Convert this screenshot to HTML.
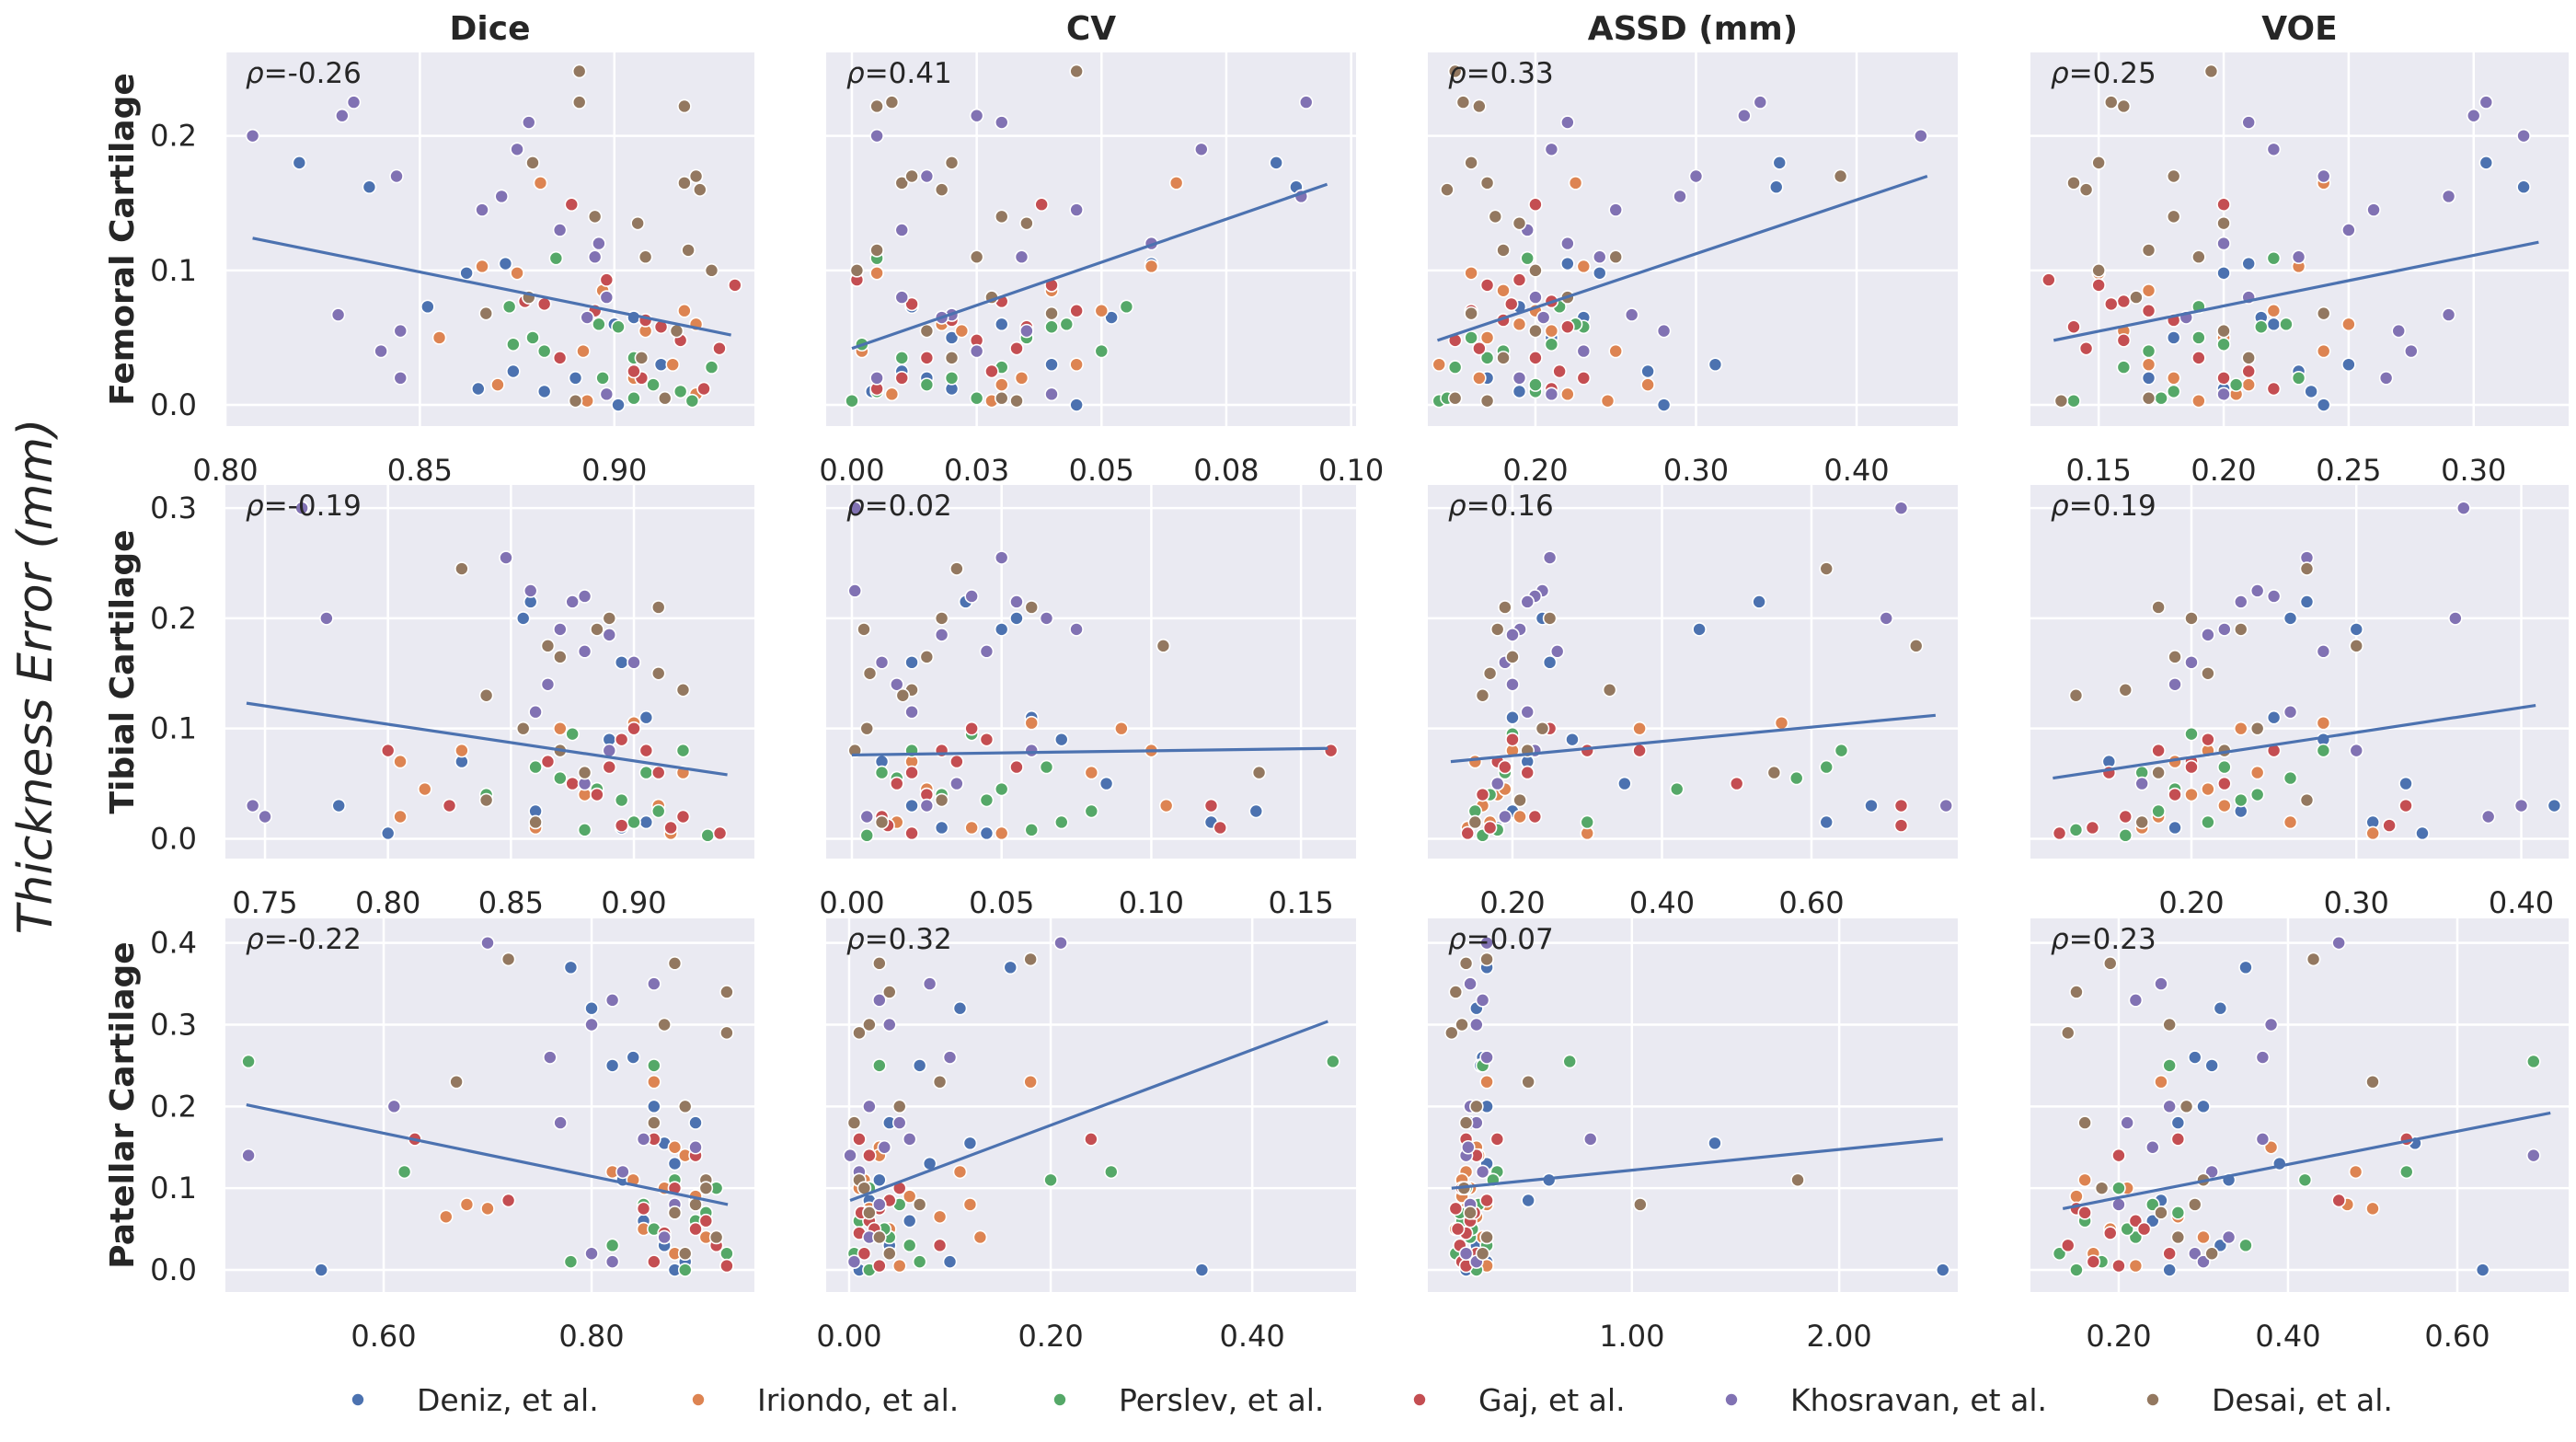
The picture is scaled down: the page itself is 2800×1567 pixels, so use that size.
<!DOCTYPE html>
<html><head><meta charset="utf-8"><style>
html,body{margin:0;padding:0;background:#fff}
svg{display:block}
text{font-family:"DejaVu Sans","Liberation Sans",sans-serif}
</style></head><body>
<svg id="fig" width="2800" height="1567" viewBox="0 0 2800 1567" xmlns="http://www.w3.org/2000/svg"></svg>
<script>
// ---------- chart data ----------
const seriesNames = ["Deniz, et al.","Iriondo, et al.","Perslev, et al.","Gaj, et al.","Khosravan, et al.","Desai, et al."];
const seriesColors = ["#4c72b0","#dd8452","#55a868","#c44e52","#8172b3","#937860"];
const colTitles = ["Dice","CV","ASSD (mm)","VOE"];
const rowTitles = ["Femoral Cartilage","Tibial Cartilage","Patellar Cartilage"];
const rhoLabels = [["-0.26","0.41","0.33","0.25"],["-0.19","0.02","0.16","0.19"],["-0.22","0.32","0.07","0.23"]];
const yTickValues = [[0,0.1,0.2],[0,0.1,0.2,0.3],[0,0.1,0.2,0.3,0.4]];
const yTickLabels = [["0.0","0.1","0.2"],["0.0","0.1","0.2","0.3"],["0.0","0.1","0.2","0.3","0.4"]];
const xTickValues = [
 [[0.80,0.85,0.90],[0,0.025,0.05,0.075,0.1],[0.2,0.3,0.4],[0.15,0.2,0.25,0.3]],
 [[0.75,0.80,0.85,0.90],[0,0.05,0.1,0.15],[0.2,0.4,0.6],[0.2,0.3,0.4]],
 [[0.6,0.8],[0,0.2,0.4],[1,2],[0.2,0.4,0.6]]];
const xTickLabels = [
 [["0.80","0.85","0.90"],["0.00","0.03","0.05","0.08","0.10"],["0.20","0.30","0.40"],["0.15","0.20","0.25","0.30"]],
 [["0.75","0.80","0.85","0.90"],["0.00","0.05","0.10","0.15"],["0.20","0.40","0.60"],["0.20","0.30","0.40"]],
 [["0.60","0.80"],["0.00","0.20","0.40"],["1.00","2.00"],["0.20","0.40","0.60"]]];
// trend line endpoints [x0,y0,x1,y1] per panel
const trendLines = [
 [[0.807,0.124,0.93,0.052],[0.0,0.042,0.0952,0.164],[0.139,0.048,0.444,0.170],[0.132,0.048,0.326,0.121]],
 [[0.7425,0.123,0.938,0.058],[0.0,0.076,0.159,0.082],[0.1175,0.070,0.766,0.112],[0.116,0.055,0.4087,0.121]],
 [[0.468,0.202,0.931,0.080],[0.001,0.085,0.475,0.304],[0.13,0.100,2.50,0.160],[0.134,0.075,0.71,0.192]]];

// per row: for each series -> y values, and x values for Dice, CV, ASSD, VOE
const femoralY = [
 [0.18,0.162,0.105,0.098,0.073,0.06,0.05,0.025,0.012,0.0,0.03,0.065,0.02,0.01],
 [0.165,0.103,0.098,0.085,0.07,0.05,0.04,0.03,0.015,0.003,0.06,0.055,0.02,0.008],
 [0.109,0.073,0.058,0.045,0.04,0.035,0.028,0.02,0.01,0.003,0.06,0.05,0.015,0.005],
 [0.149,0.093,0.089,0.077,0.07,0.063,0.058,0.048,0.035,0.02,0.012,0.075,0.042,0.025],
 [0.225,0.215,0.2,0.21,0.19,0.17,0.155,0.145,0.12,0.08,0.067,0.055,0.04,0.02,0.008,0.11,0.13,0.065],
 [0.248,0.225,0.222,0.18,0.165,0.16,0.14,0.135,0.115,0.11,0.1,0.068,0.055,0.035,0.005,0.17,0.08,0.003]];
const femoralDice = [
 [0.819,0.837,0.872,0.862,0.852,0.900,0.879,0.874,0.865,0.901,0.912,0.905,0.89,0.882],
 [0.881,0.866,0.875,0.897,0.918,0.855,0.892,0.915,0.87,0.893,0.921,0.908,0.905,0.921],
 [0.885,0.873,0.901,0.874,0.882,0.905,0.925,0.897,0.917,0.92,0.896,0.879,0.91,0.905],
 [0.889,0.898,0.931,0.877,0.895,0.908,0.912,0.917,0.886,0.907,0.923,0.882,0.927,0.905],
 [0.833,0.83,0.807,0.878,0.875,0.844,0.871,0.866,0.896,0.898,0.829,0.845,0.84,0.845,0.898,0.895,0.886,0.893],
 [0.891,0.891,0.918,0.879,0.918,0.922,0.895,0.906,0.919,0.908,0.925,0.867,0.916,0.907,0.913,0.921,0.878,0.89]];
const femoralCV = [
 [0.085,0.089,0.06,0.005,0.012,0.03,0.02,0.01,0.02,0.045,0.04,0.052,0.015,0.004],
 [0.065,0.06,0.005,0.04,0.05,0.035,0.002,0.045,0.03,0.028,0.018,0.022,0.034,0.008],
 [0.005,0.055,0.04,0.002,0.05,0.01,0.03,0.02,0.005,0.0,0.043,0.035,0.015,0.025],
 [0.038,0.001,0.04,0.03,0.045,0.02,0.035,0.025,0.015,0.01,0.005,0.012,0.033,0.028],
 [0.091,0.025,0.005,0.03,0.07,0.015,0.09,0.045,0.06,0.01,0.02,0.035,0.025,0.005,0.04,0.034,0.01,0.018],
 [0.045,0.008,0.005,0.02,0.01,0.018,0.03,0.035,0.005,0.025,0.001,0.04,0.015,0.02,0.03,0.012,0.028,0.033]];
const femoralASSD = [
 [0.352,0.35,0.22,0.24,0.19,0.225,0.21,0.27,0.2,0.28,0.312,0.23,0.17,0.19],
 [0.225,0.23,0.16,0.18,0.2,0.17,0.25,0.14,0.27,0.245,0.19,0.21,0.165,0.22],
 [0.195,0.215,0.23,0.21,0.18,0.17,0.15,0.19,0.2,0.14,0.225,0.16,0.2,0.145],
 [0.2,0.19,0.17,0.21,0.16,0.18,0.22,0.15,0.2,0.23,0.21,0.185,0.165,0.215],
 [0.34,0.33,0.44,0.22,0.21,0.3,0.29,0.25,0.22,0.2,0.26,0.28,0.23,0.19,0.21,0.24,0.195,0.205],
 [0.15,0.155,0.165,0.16,0.17,0.145,0.175,0.19,0.18,0.25,0.2,0.16,0.2,0.18,0.15,0.39,0.22,0.17]];
const femoralVOE = [
 [0.305,0.32,0.21,0.2,0.19,0.22,0.18,0.23,0.2,0.24,0.25,0.215,0.17,0.235],
 [0.24,0.23,0.15,0.17,0.22,0.2,0.24,0.17,0.21,0.19,0.25,0.16,0.18,0.205],
 [0.22,0.19,0.215,0.2,0.17,0.21,0.16,0.23,0.18,0.14,0.225,0.19,0.205,0.175],
 [0.2,0.13,0.15,0.16,0.17,0.18,0.14,0.16,0.19,0.2,0.22,0.155,0.145,0.21],
 [0.305,0.3,0.32,0.21,0.22,0.24,0.29,0.26,0.2,0.21,0.29,0.27,0.275,0.265,0.2,0.23,0.25,0.185],
 [0.195,0.155,0.16,0.15,0.14,0.145,0.18,0.2,0.17,0.19,0.15,0.24,0.2,0.21,0.17,0.18,0.165,0.135]];

const tibialY = [
 [0.215,0.2,0.19,0.16,0.11,0.09,0.07,0.05,0.03,0.015,0.005,0.025,0.01],
 [0.105,0.1,0.08,0.07,0.06,0.04,0.03,0.02,0.01,0.005,0.045,0.015],
 [0.095,0.08,0.065,0.06,0.045,0.04,0.025,0.015,0.008,0.003,0.055,0.035],
 [0.1,0.09,0.08,0.07,0.06,0.05,0.04,0.03,0.02,0.01,0.005,0.08,0.065,0.012],
 [0.3,0.255,0.225,0.22,0.215,0.2,0.19,0.185,0.17,0.16,0.14,0.115,0.08,0.05,0.03,0.02],
 [0.245,0.21,0.2,0.19,0.175,0.165,0.15,0.135,0.13,0.1,0.08,0.06,0.035,0.015]];
const tibialDice = [
 [0.858,0.855,0.87,0.895,0.905,0.89,0.83,0.88,0.78,0.905,0.8,0.86,0.895],
 [0.9,0.87,0.83,0.805,0.92,0.88,0.91,0.805,0.86,0.915,0.815,0.9],
 [0.875,0.92,0.86,0.905,0.885,0.84,0.91,0.9,0.88,0.93,0.87,0.895],
 [0.9,0.895,0.8,0.865,0.91,0.875,0.885,0.825,0.92,0.915,0.935,0.905,0.89,0.895],
 [0.765,0.848,0.858,0.88,0.875,0.775,0.87,0.89,0.88,0.9,0.865,0.86,0.89,0.88,0.745,0.75],
 [0.83,0.91,0.89,0.885,0.865,0.87,0.91,0.92,0.84,0.855,0.87,0.88,0.84,0.86]];
const tibialCV = [
 [0.038,0.055,0.05,0.02,0.06,0.07,0.01,0.085,0.02,0.12,0.045,0.135,0.03],
 [0.06,0.09,0.1,0.02,0.08,0.03,0.105,0.01,0.04,0.05,0.025,0.015],
 [0.04,0.02,0.065,0.01,0.05,0.03,0.08,0.07,0.06,0.005,0.015,0.045],
 [0.04,0.045,0.03,0.035,0.02,0.015,0.025,0.12,0.01,0.123,0.02,0.16,0.055,0.012],
 [0.001,0.05,0.001,0.04,0.055,0.065,0.075,0.03,0.045,0.01,0.015,0.02,0.06,0.035,0.025,0.005],
 [0.035,0.06,0.03,0.004,0.104,0.025,0.006,0.02,0.017,0.005,0.001,0.136,0.03,0.01]];
const tibialASSD = [
 [0.53,0.24,0.45,0.25,0.2,0.28,0.22,0.35,0.68,0.62,0.3,0.2,0.18],
 [0.56,0.37,0.2,0.15,0.22,0.18,0.16,0.21,0.14,0.3,0.19,0.17],
 [0.2,0.64,0.62,0.19,0.42,0.17,0.15,0.3,0.18,0.16,0.58,0.21],
 [0.25,0.2,0.3,0.18,0.22,0.5,0.16,0.72,0.23,0.17,0.14,0.37,0.19,0.72],
 [0.72,0.25,0.24,0.23,0.22,0.7,0.21,0.2,0.26,0.19,0.2,0.22,0.23,0.18,0.78,0.19],
 [0.62,0.19,0.25,0.18,0.74,0.2,0.17,0.33,0.16,0.24,0.22,0.55,0.21,0.15]];
const tibialVOE = [
 [0.27,0.26,0.3,0.2,0.25,0.28,0.15,0.33,0.42,0.31,0.34,0.23,0.19],
 [0.28,0.23,0.21,0.19,0.24,0.2,0.22,0.18,0.17,0.31,0.21,0.26],
 [0.2,0.28,0.22,0.17,0.19,0.24,0.18,0.21,0.13,0.16,0.26,0.23],
 [0.24,0.21,0.18,0.2,0.15,0.22,0.19,0.33,0.16,0.14,0.12,0.25,0.2,0.32],
 [0.365,0.27,0.24,0.25,0.23,0.36,0.22,0.21,0.28,0.2,0.19,0.26,0.3,0.17,0.4,0.38],
 [0.27,0.18,0.2,0.23,0.3,0.19,0.21,0.16,0.13,0.24,0.22,0.18,0.27,0.17]];

const patellarY = [
 [0.37,0.32,0.26,0.2,0.155,0.13,0.11,0.085,0.06,0.03,0.01,0.0,0.0,0.25,0.18],
 [0.23,0.15,0.12,0.1,0.09,0.08,0.075,0.065,0.05,0.04,0.02,0.005,0.14,0.11],
 [0.255,0.25,0.12,0.11,0.1,0.08,0.06,0.04,0.03,0.02,0.01,0.0,0.07,0.05],
 [0.16,0.16,0.14,0.1,0.085,0.075,0.06,0.045,0.03,0.02,0.01,0.005,0.05,0.07],
 [0.4,0.35,0.33,0.3,0.26,0.2,0.18,0.16,0.14,0.12,0.08,0.04,0.02,0.01,0.15],
 [0.38,0.375,0.34,0.3,0.29,0.23,0.2,0.18,0.11,0.08,0.07,0.04,0.02,0.1]];
const patellarDice = [
 [0.78,0.8,0.84,0.86,0.87,0.88,0.83,0.9,0.85,0.87,0.89,0.54,0.88,0.82,0.9],
 [0.86,0.88,0.82,0.87,0.9,0.68,0.7,0.66,0.85,0.91,0.88,0.93,0.89,0.84],
 [0.47,0.86,0.62,0.88,0.92,0.85,0.9,0.87,0.82,0.93,0.78,0.89,0.91,0.86],
 [0.63,0.86,0.9,0.88,0.72,0.85,0.91,0.87,0.92,0.89,0.86,0.93,0.9,0.88],
 [0.7,0.86,0.82,0.8,0.76,0.61,0.77,0.85,0.47,0.83,0.88,0.87,0.8,0.82,0.9],
 [0.72,0.88,0.93,0.87,0.93,0.67,0.89,0.86,0.91,0.9,0.88,0.92,0.89,0.91]];
const patellarCV = [
 [0.16,0.11,0.1,0.05,0.12,0.08,0.03,0.02,0.06,0.04,0.1,0.35,0.01,0.07,0.04],
 [0.18,0.03,0.11,0.01,0.06,0.12,0.02,0.09,0.04,0.13,0.005,0.05,0.03,0.015],
 [0.48,0.03,0.26,0.2,0.02,0.05,0.01,0.04,0.06,0.005,0.07,0.02,0.015,0.035],
 [0.24,0.01,0.02,0.05,0.04,0.03,0.02,0.01,0.09,0.015,0.005,0.03,0.025,0.012],
 [0.21,0.08,0.03,0.04,0.1,0.02,0.05,0.06,0.001,0.01,0.03,0.02,0.04,0.005,0.035],
 [0.18,0.03,0.04,0.02,0.01,0.09,0.05,0.005,0.01,0.07,0.02,0.03,0.04,0.015]];
const patellarASSD = [
 [0.3,0.25,0.28,0.3,1.4,0.3,0.6,0.5,0.22,0.25,0.3,2.5,0.2,0.27,0.22],
 [0.3,0.25,0.2,0.22,0.18,0.3,0.2,0.25,0.15,0.28,0.2,0.3,0.26,0.18],
 [0.7,0.28,0.35,0.33,0.2,0.26,0.18,0.22,0.3,0.15,0.2,0.25,0.17,0.23],
 [0.35,0.2,0.25,0.18,0.3,0.15,0.22,0.2,0.17,0.25,0.18,0.2,0.16,0.24],
 [0.3,0.22,0.28,0.25,0.3,0.22,0.25,0.8,0.2,0.28,0.22,0.3,0.2,0.25,0.21],
 [0.3,0.2,0.15,0.18,0.13,0.5,0.25,0.2,1.8,1.04,0.22,0.3,0.28,0.19]];
const patellarVOE = [
 [0.35,0.32,0.29,0.3,0.55,0.39,0.33,0.25,0.24,0.32,0.3,0.63,0.26,0.31,0.27],
 [0.25,0.38,0.48,0.21,0.15,0.47,0.5,0.27,0.19,0.3,0.17,0.22,0.2,0.16],
 [0.69,0.26,0.54,0.42,0.2,0.24,0.16,0.22,0.35,0.13,0.18,0.15,0.27,0.21],
 [0.54,0.27,0.2,0.18,0.46,0.15,0.22,0.19,0.14,0.26,0.17,0.2,0.23,0.16],
 [0.46,0.25,0.22,0.38,0.37,0.26,0.21,0.37,0.69,0.31,0.2,0.33,0.29,0.3,0.24],
 [0.43,0.19,0.15,0.26,0.14,0.5,0.28,0.16,0.3,0.29,0.25,0.27,0.31,0.18]];

const rowY = [femoralY, tibialY, patellarY];
const rowX = [[femoralDice,femoralCV,femoralASSD,femoralVOE],[tibialDice,tibialCV,tibialASSD,tibialVOE],[patellarDice,patellarCV,patellarASSD,patellarVOE]];

// ---------- layout ----------
const colLeft = [245, 898, 1552, 2207];
const colWidth = [575, 576, 576, 585];
const rowTop = [57, 527, 998];
const rowHeight = 406;
const yDomains = [[-0.0157,0.262],[-0.018,0.321],[-0.027,0.430]];
const xDomains = [
 [[0.80,0.936],[-0.00516,0.101],[0.133,0.463],[0.1227,0.338]],
 [[0.7339,0.949],[-0.0086,0.1684],[0.0868,0.7957],[0.1024,0.4287]],
 [[0.4478,0.9566],[-0.0228,0.503],[0.0155,2.572],[0.0957,0.7315]]];

const NS = "http://www.w3.org/2000/svg";
const svg = document.getElementById('fig');
function mk(tag, attrs, parent, txt){
  const e = document.createElementNS(NS, tag);
  for (const k in attrs) e.setAttribute(k, attrs[k]);
  if (txt !== undefined) e.textContent = txt;
  (parent||svg).appendChild(e);
  return e;
}
function xScale(r,c,v){const d=xDomains[r][c];return colLeft[c]+(v-d[0])/(d[1]-d[0])*colWidth[c];}
function yScale(r,v){const d=yDomains[r];return rowTop[r]+rowHeight-(v-d[0])/(d[1]-d[0])*rowHeight;}

// big y label
const big = mk('text',{x:0,y:0,transform:'translate(56,735) rotate(-90)','text-anchor':'middle','font-size':52,'font-style':'italic',fill:'#262626'},svg,'Thickness Error (mm)');



for (let c=0;c<4;c++){
  const t = mk('text',{x:colLeft[c]+colWidth[c]/2,y:43,'text-anchor':'middle','font-size':36,'font-weight':'bold',fill:'#262626'},svg,colTitles[c]);
  
  
}

for (let r=0;r<3;r++){
  const rt = mk('text',{x:0,y:0,transform:`translate(145,${rowTop[r]+rowHeight/2}) rotate(-90)`,'text-anchor':'middle','font-size':36,'font-weight':'bold',fill:'#262626'},svg,rowTitles[r]);
  
  
  for (let c=0;c<4;c++){
    const g = mk('g',{});
    
    
    const L=colLeft[c], T=rowTop[r], W=colWidth[c], H=rowHeight;
    const bg = mk('rect',{x:L,y:T,width:W,height:H,fill:'#eaeaf2'},g);
    
    
    // grid
    yTickValues[r].forEach((v,i)=>{
      const y=yScale(r,v);
      const gl = mk('line',{x1:L,x2:L+W,y1:y,y2:y,stroke:'#fff','stroke-width':2.5},g);
      
      
      if (c===0){
        const tl = mk('text',{x:214,y:y+11,'text-anchor':'end','font-size':32,fill:'#262626'},g,yTickLabels[r][i]);
        
        
      }
    });
    xTickValues[r][c].forEach((v,i)=>{
      const x=xScale(r,c,v);
      const gl = mk('line',{x1:x,x2:x,y1:T,y2:T+H,stroke:'#fff','stroke-width':2.5},g);
      
      
      const tl = mk('text',{x:x,y:T+H+59,'text-anchor':'middle','font-size':32,fill:'#262626'},g,xTickLabels[r][c][i]);
      
      
    });
    // points
    for (let s=0;s<6;s++){
      const ys=rowY[r][s], xs=rowX[r][c][s];
      for (let i=0;i<ys.length;i++){
        const p = mk('circle',{cx:xScale(r,c,xs[i]),cy:yScale(r,ys[i]),r:7,fill:seriesColors[s],stroke:'#fff','stroke-width':1.6},g);
        
        
      }
    }
    // trend line
    const tr=trendLines[r][c];
    const ln = mk('line',{x1:xScale(r,c,tr[0]),y1:yScale(r,tr[1]),x2:xScale(r,c,tr[2]),y2:yScale(r,tr[3]),stroke:'#4c72b0','stroke-width':3.2},g);
    
    
    const rho = mk('text',{x:L+22,y:T+33,'font-size':31,fill:'#262626','font-family':'"Liberation Serif",serif'},g);
    
    
    mk('tspan',{'font-style':'italic'},rho,'ρ');
    mk('tspan',{},rho,'='+rhoLabels[r][c]);
  }
}

// legend
const legendMarkerX = [389, 759, 1152, 1543, 1882, 2340];
const lg = mk('g',{});


for (let s=0;s<6;s++){
  const e = mk('g',{},lg);
  
  
  mk('circle',{cx:legendMarkerX[s],cy:1521,r:7,fill:seriesColors[s],stroke:'#fff','stroke-width':1.6},e);
  mk('text',{x:legendMarkerX[s]+64,y:1533,'font-size':33,fill:'#262626'},e,seriesNames[s]);
}
</script>
</body></html>
